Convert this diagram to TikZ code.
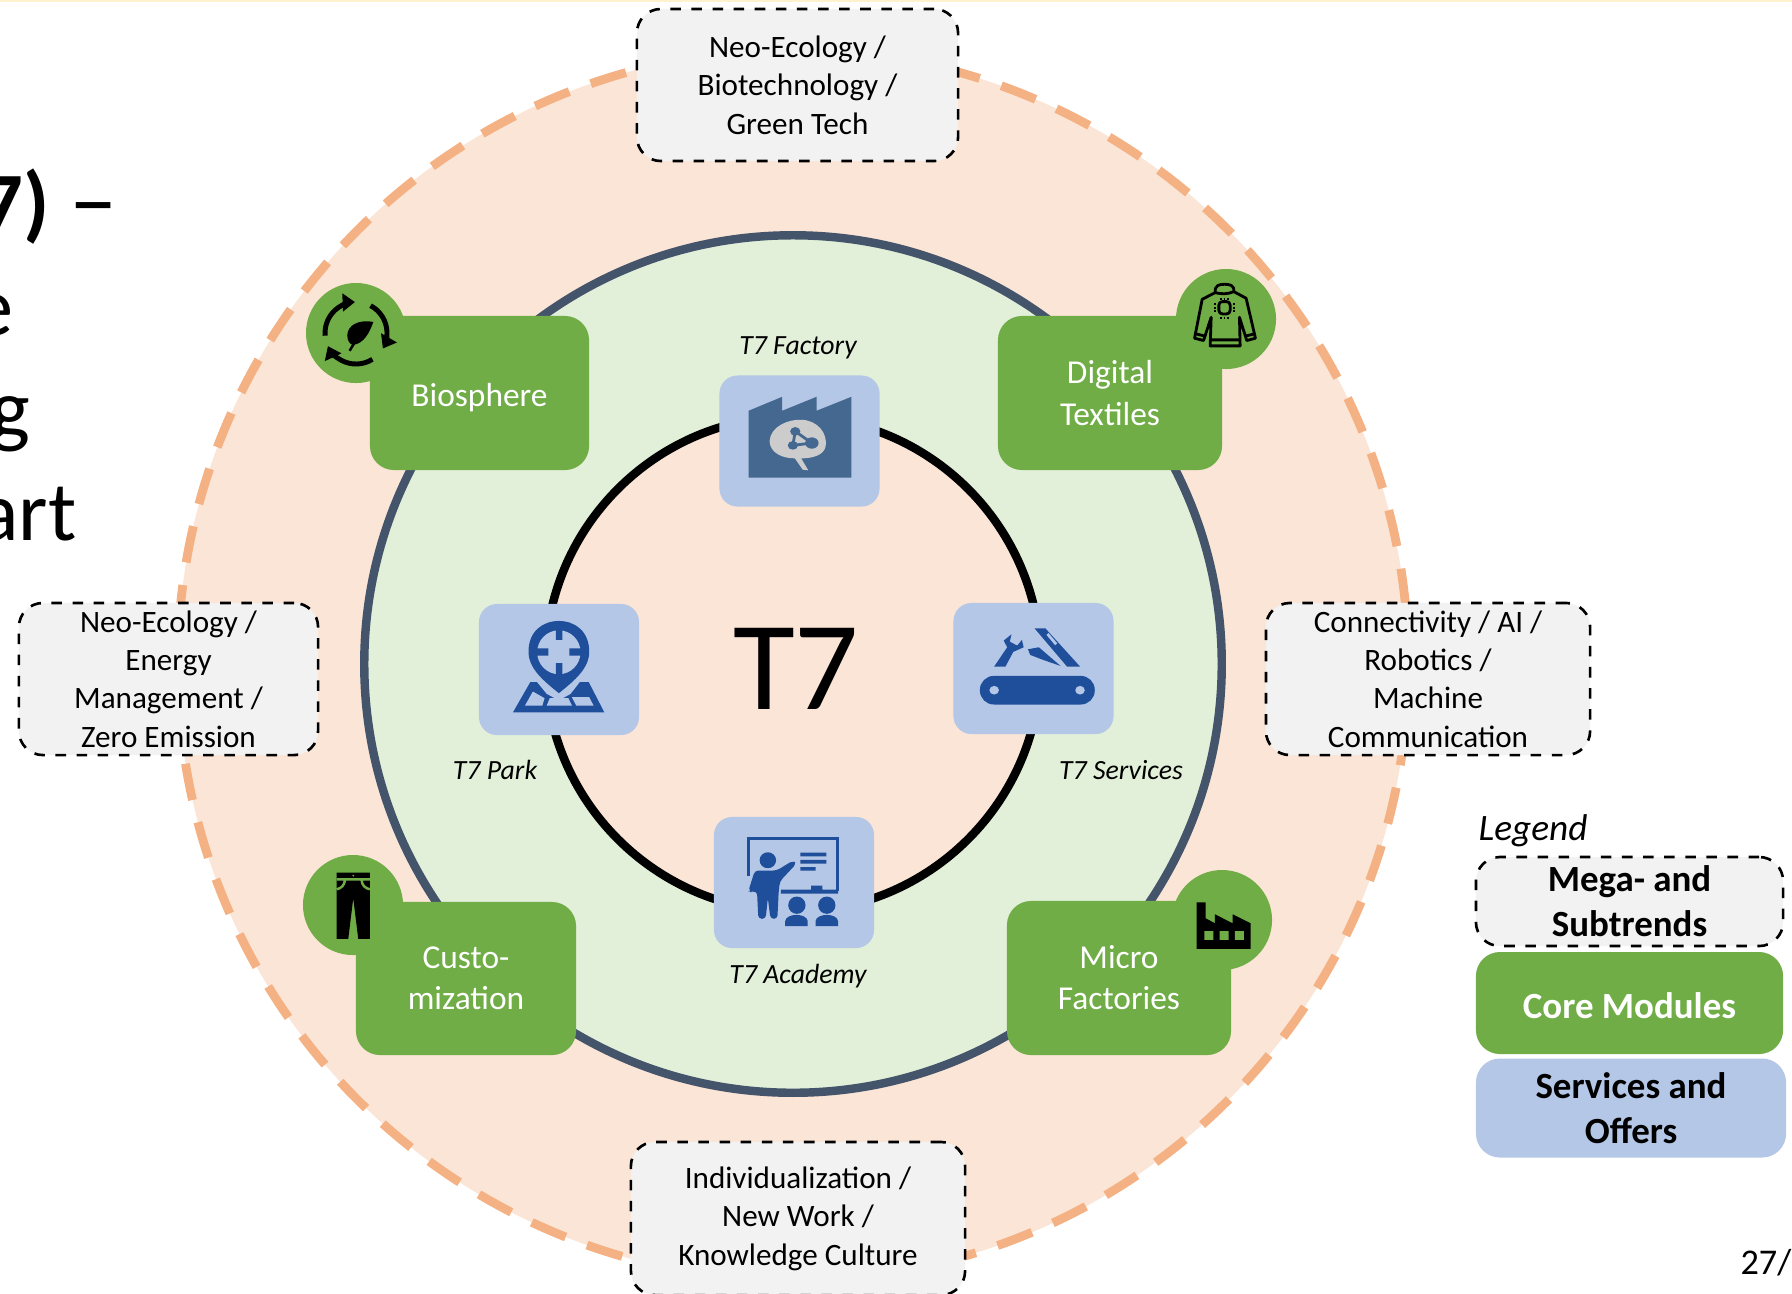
\documentclass[tikz,border=0pt]{standalone}
\usepackage{fontspec}
\setmainfont{Carlito}
\usetikzlibrary{arrows.meta}
\definecolor{ring_fill}{HTML}{FBE5D6}
\definecolor{ring_dash}{HTML}{F4B183}
\definecolor{mid_fill}{HTML}{E2F0D9}
\definecolor{mid_line}{HTML}{44546A}
\definecolor{core_fill}{HTML}{70AD47}
\definecolor{service_fill}{HTML}{B4C7E7}
\definecolor{service_dark}{HTML}{1F4E9A}
\definecolor{plant_dark}{HTML}{44688F}
\definecolor{trend_fill}{HTML}{F2F2F2}
\definecolor{top_line}{HTML}{FFF2CC}
\begin{document}
\begin{tikzpicture}
        [x=0.01cm,y=-0.01cm,
         ring_style/.style={circle,inner sep=0pt,minimum size=12.3cm,fill=ring_fill,draw=ring_dash,line width=2.5pt,dash pattern=on 10.5pt off 6.5pt},
         mid_style/.style={circle,inner sep=0pt,minimum size=8.57cm,fill=mid_fill,draw=mid_line,line width=2.4pt},
         hub_style/.style={circle,inner sep=0pt,minimum size=4.95cm,fill=ring_fill,draw=black,line width=2.4pt},
         trend_style/.style={rectangle,rounded corners=0.24cm,inner sep=0pt,fill=trend_fill,draw=black,line width=0.75pt,dashed,align=center,font=\fontsize{8.85}{10.9}\selectfont,execute at begin node={\rule{0pt}{0.82em}}},
         core_style/.style={rectangle,rounded corners=0.24cm,inner sep=0pt,fill=core_fill,text=white,align=center,font=\fontsize{9.5}{11.67}\selectfont,execute at begin node={\rule{0pt}{0.82em}}},
         badge_style/.style={circle,inner sep=0pt,minimum size=1cm,fill=core_fill},
         service_style/.style={rectangle,rounded corners=0.18cm,inner sep=0pt,minimum width=1.6cm,minimum height=1.31cm,fill=service_fill},
         service_label/.style={inner sep=0pt,font=\fontsize{7.9}{9}\selectfont\itshape},
         legend_text/.style={align=center,font=\fontsize{10.5}{12.8}\selectfont\bfseries},
         head_text/.style={inner sep=0pt,anchor=base east,font=\fontsize{24}{29}\selectfont},
         zoom_a/.style={shift={(280,250)},x=0.003954cm,y=-0.003333cm},
         zoom_b/.style={shift={(900,250)},x=0.003333cm,y=-0.003333cm},
         zoom_c/.style={shift={(460,590)},x=0.004337cm,y=-0.003333cm},
         zoom_d/.style={shift={(300,850)},x=0.003333cm,y=-0.003333cm},
         zoom_e/.style={shift={(1170,860)},x=0.003333cm,y=-0.003333cm}]
            \useasboundingbox (0,0) rectangle (1792,1293);
            \fill[top_line] (0,0) rectangle (1792,2);

            \node[ring_style] (outer) at (793,665) {};
            \node[mid_style] (middle) at (793,664) {};
            \node[hub_style] (hub) at (793,664) {};
            \node[font=\fontsize{36}{44}\selectfont] (t7) at (796,669) {T7};

            \node[head_text] (head1) at (118,231) {\textbf{7)} \raisebox{-0.5pt}{\fontsize{27.5}{29}\selectfont –}};
            \node[head_text] (head2) at (14,335) {e};
            \node[head_text] (head3) at (31,437) {g};
            \node[head_text] (head4) at (77,540) {art};

            \node[trend_style,minimum width=3.21cm,minimum height=1.52cm] (trend_top) at (797.5,85) {Neo-Ecology /\\Biotechnology /\\Green Tech};
            \node[trend_style,minimum width=2.99cm,minimum height=1.52cm] (trend_left) at (168.5,679) {Neo-Ecology /\\Energy\\Management /\\Zero Emission};
            \node[trend_style,minimum width=3.24cm,minimum height=1.52cm] (trend_right) at (1428,679) {Connectivity / AI /\\Robotics /\\Machine\\Communication};
            \node[trend_style,minimum width=3.34cm,minimum height=1.53cm] (trend_bottom) at (798,1218.5) {Individualization /\\New Work /\\Knowledge Culture};

            \node[core_style,text depth=0pt,minimum width=2.19cm,minimum height=1.54cm] (biosphere) at (479.5,393) {Biosphere};
            \node[core_style,minimum width=2.24cm,minimum height=1.54cm] (textiles) at (1110,393) {Digital\\Textiles};
            \node[core_style,minimum width=2.2cm,minimum height=1.53cm] (custom) at (466,978.5) {Custo-\\mization};
            \node[core_style,minimum width=2.24cm,minimum height=1.54cm] (micro) at (1119,978) {Micro\\Factories};
            \node[badge_style] (badge_bio) at (356,333) {};
            \node[badge_style] (badge_tex) at (1226,319) {};
            \node[badge_style] (badge_cus) at (353,905) {};
            \node[badge_style] (badge_mic) at (1222,920) {};

            \node[service_style] (factory) at (799.5,441) {};
            \node[service_style] (park) at (559,669.5) {};
            \node[service_style] (services) at (1033.5,668.5) {};
            \node[service_style] (academy) at (794,882.5) {};
            \node[service_label] (factory_text) at (798,348) {T7 Factory};
            \node[service_label] (park_text) at (495,770) {T7 Park};
            \node[service_label] (services_text) at (1121,770) {T7 Services};
            \node[service_label] (academy_text) at (798,976.5) {T7 Academy};

            % recycle badge
            \begin{scope}[shift={(356,333)},x=0.01cm,y=0.01cm,line width=1.4pt,>={Triangle[length=3.5pt,width=5pt]}]
                \draw[->] (185:31) arc[start angle=185,end angle=92,radius=31];
                \draw[->] (62:31) arc[start angle=62,end angle=-30,radius=31];
                \draw[->] (-58:31) arc[start angle=-58,end angle=-155,radius=31];
            \end{scope}
            \begin{scope}[zoom_a]
                \fill (236,216) .. controls (200,208) and (170,225) .. (170,258) .. controls (171,275) and (178,285) .. (186,285) .. controls (212,280) and (226,250) .. cycle;
                \draw[line width=0.7pt] (205,245) -- (176,303);
            \end{scope}

            % jumper badge
            \begin{scope}[zoom_b,line width=0.8pt,line join=round]
                \draw (947,128) -- (908,148) -- (885,265) -- (912,272) -- (935,202) -- (932,288) -- (1022,288) -- (1020,202) -- (1042,272) -- (1068,265) -- (1040,145) -- (1003,125);
                \draw (947,128) .. controls (945,105) and (960,103) .. (975,103) .. controls (990,103) and (1005,105) .. (1003,125) .. controls (985,133) and (965,133) .. cycle;
                \draw (932,270) -- (1022,270) (889,252) -- (914,258) (1040,258) -- (1065,252);
                \draw[rounded corners=1pt] (958,155) rectangle (992,192);
                \draw[line width=0.55pt,dash pattern=on 0.5pt off 0.5pt] (962,146) -- (990,146) (962,203) -- (990,203) (947,160) -- (947,190) (1003,160) -- (1003,190);
            \end{scope}

            % trousers badge
            \begin{scope}[zoom_d]
                \fill (110,68) -- (210,68) -- (210,267) -- (175,267) -- (160,145) -- (145,267) -- (110,267) -- cycle;
                \draw[core_fill,line width=0.7pt] (110,88) -- (210,88) (110,118) .. controls (125,115) and (134,105) .. (135,90) (210,118) .. controls (195,115) and (186,105) .. (185,90);
                \fill[core_fill] (160,77) circle[radius=3];
            \end{scope}

            % plant badge
            \begin{scope}[zoom_e]
                \fill (80,127) -- (107,127) -- (107,175) -- (135,190) -- (135,163) -- (188,190) -- (188,163) -- (242,190) -- (242,267) -- (80,267) -- cycle;
                \fill[core_fill] (103,214) rectangle (130,240) (149,214) rectangle (176,240) (195,214) rectangle (222,240);
            \end{scope}

            % factory icon
            \begin{scope}[zoom_a]
                \fill[plant_dark] (1185,483) -- (1270,441) -- (1270,483) -- (1357,441) -- (1357,483) -- (1445,441) -- (1445,684) -- (1185,684) -- cycle;
                \fill[black!20] (1238,575) .. controls (1240,530) and (1285,508) .. (1320,510) .. controls (1360,513) and (1385,550) .. (1380,590) .. controls (1375,618) and (1345,626) .. (1318,626) -- (1336,662) -- (1322,660) -- (1302,626) .. controls (1270,626) and (1240,610) .. cycle;
                \draw[plant_dark,line width=0.8pt] (1303,545) -- (1297,587) -- (1345,580) -- cycle;
                \fill[plant_dark] (1303,545) circle[radius=13] (1297,587) circle[radius=13] (1345,580) circle[radius=17];
            \end{scope}

            % park icon
            \begin{scope}[zoom_c]
                \fill[service_dark] (122,368) -- (162,277) -- (297,277) -- (333,368) -- cycle;
                \fill[service_fill] (150,347) -- (168,305) -- (195,325) -- (190,347) -- cycle (200,347) -- (207,325) -- (250,325) -- (258,347) -- cycle (268,347) -- (258,322) -- (298,322) -- (308,347) -- cycle;
                \fill[service_fill] (178,277) -- (276,277) -- (255,312) -- (228,332) -- (200,312) -- cycle;
                \fill[service_dark] (228,310) .. controls (190,270) and (158,235) .. (158,185) .. controls (158,125) and (190,93) .. (228,93) .. controls (266,93) and (298,125) .. (298,185) .. controls (298,235) and (266,270) .. cycle;
                \fill[service_fill] (228,187) circle[x radius=50,y radius=66];
                \fill[service_dark] (221,118) rectangle (236,150) (221,220) rectangle (236,258) (176,175) rectangle (204,197) (252,175) rectangle (280,197);
            \end{scope}

            % services icon
            \begin{scope}[zoom_c]
                \fill[service_dark,rounded corners=0.14cm] (1199,258) rectangle (1464,344);
                \fill[service_fill] (1232,301) circle[x radius=11,y radius=13] (1430,301) circle[x radius=11,y radius=13];
                \fill[service_dark] (1232,230) -- (1262,172) -- (1254,152) -- (1272,133) -- (1268,155) -- (1285,167) -- (1296,150) -- (1300,172) -- (1276,186) -- (1258,230) -- cycle;
                \fill[service_dark] (1325,115) -- (1350,115) -- (1430,230) -- (1400,230) -- cycle;
                \draw[service_fill,line width=0.8pt] (1355,132) -- (1375,163);
                \fill[service_dark] (1310,178) -- (1335,172) -- (1385,228) -- (1345,210) -- (1315,195) -- cycle;
            \end{scope}

            % academy icon
            \begin{scope}[zoom_c]
                \draw[service_dark,line width=0.85pt] (666,860) -- (666,747) -- (870,747) -- (870,905);
                \fill[service_dark] (740,900) rectangle (872,912) (810,888) rectangle (836,900);
                \fill[service_dark] (785,789) rectangle (845,800) (785,811) rectangle (845,822) (785,833) rectangle (820,843);
                \fill[service_dark] (710,812) circle[x radius=19,y radius=24];
                \fill[service_dark,rounded corners=1pt] (680,843) -- (730,843) -- (768,813) -- (776,822) -- (738,875) -- (735,905) -- (732,988) -- (716,988) -- (710,925) -- (705,988) -- (688,988) -- (685,905) -- (672,908) -- (665,905) -- cycle;
                \fill[service_dark] (777,947) circle[x radius=20,y radius=26] (846,947) circle[x radius=20,y radius=26];
                \fill[service_dark] (750,1010) -- (750,995) .. controls (752,970) and (800,970) .. (802,995) -- (802,1010) -- cycle;
                \fill[service_dark] (820,1010) -- (820,995) .. controls (822,970) and (870,970) .. (872,995) -- (872,1010) -- cycle;
            \end{scope}

            \node[inner sep=0pt,anchor=west,font=\fontsize{10.6}{13}\selectfont\itshape] (legend_head) at (1478,831) {Legend};
            \node[trend_style,legend_text,minimum width=3.07cm,minimum height=0.89cm] (legend_trend) at (1629.5,901.5) {Mega- and\\Subtrends};
            \node[core_style,legend_text,minimum width=3.07cm,minimum height=1.02cm] (legend_core) at (1629.5,1003) {Core Modules};
            \node[rectangle,rounded corners=0.24cm,inner sep=0pt,fill=service_fill,legend_text,minimum width=3.1cm,minimum height=0.99cm] (legend_service) at (1631,1108) {Services and\\Offers};
            \node[inner sep=0pt,anchor=base east,font=\fontsize{10.3}{12}\selectfont] (page_no) at (1792,1274) {27/};
        \end{tikzpicture}
\end{document}
